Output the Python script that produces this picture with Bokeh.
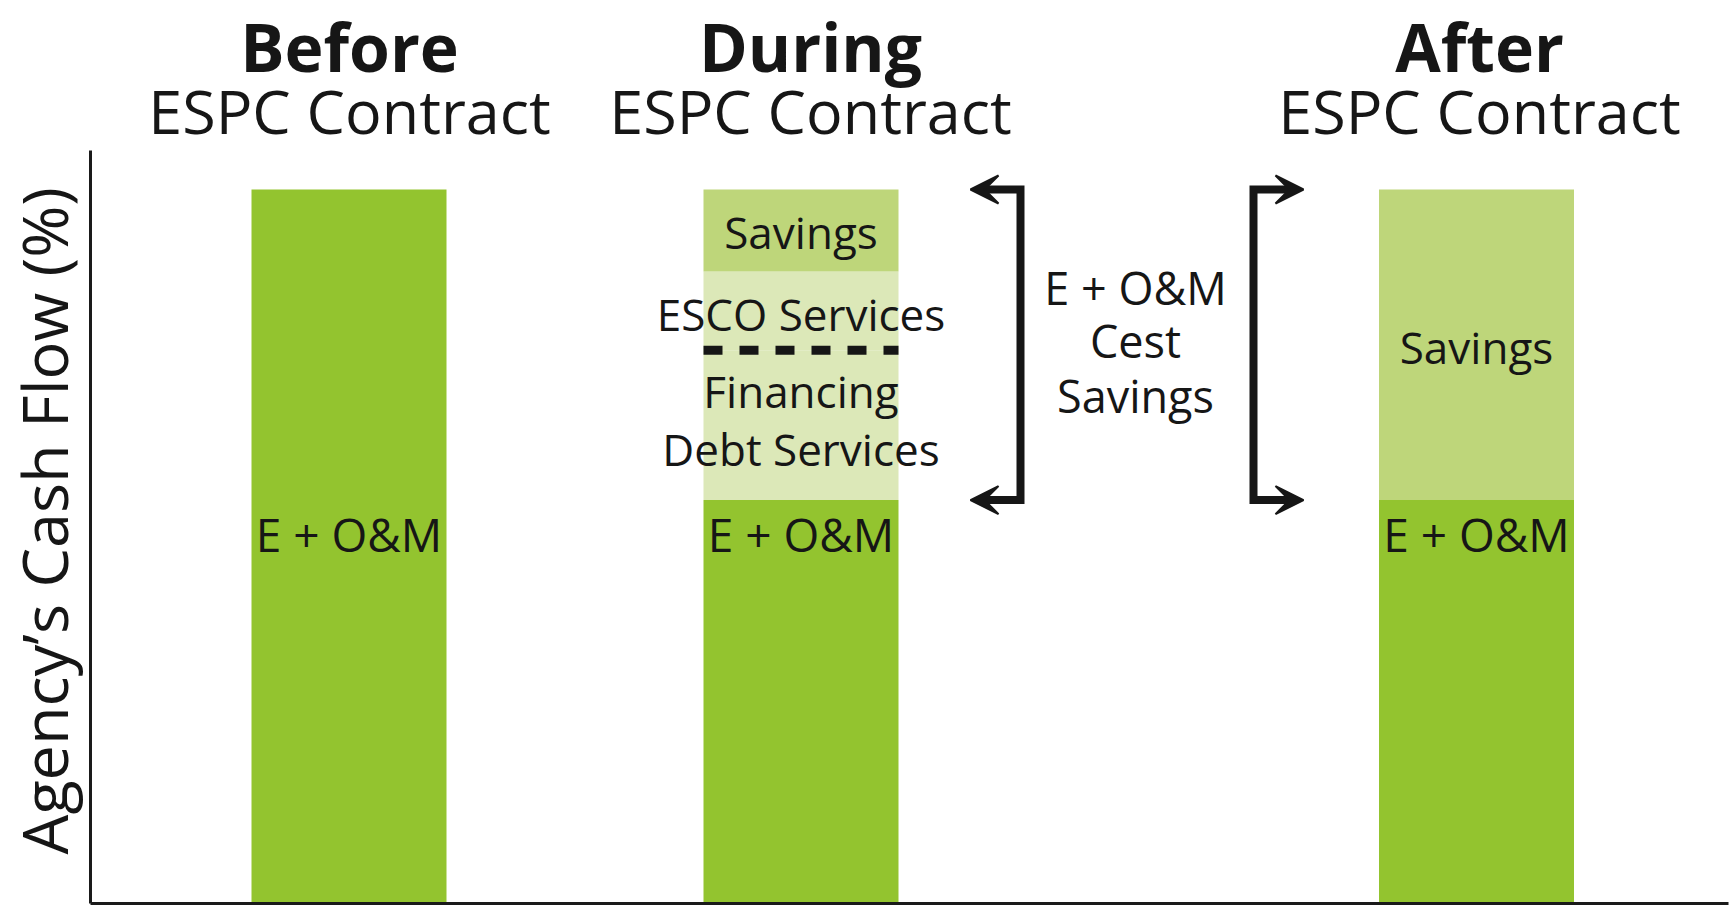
import math
from bokeh.plotting import figure
from bokeh.models import Range1d, FixedTicker, Label, Arrow, VeeHead, ColumnDataSource
from bokeh.core.properties import value
from bokeh.embed import file_html
from bokeh.resources import INLINE

# ---------------- data ----------------
categories = ["Before", "During", "After"]
subtitle = "ESPC Contract"
eom = [100, 56.5, 56.5]          # Energy + O&M
financing_debt = [0, 21, 0]      # Financing / debt services
esco_services = [0, 11, 0]       # ESCO services
savings = [0, 11.5, 43.5]        # Savings
y_label = "Agency\u2019s Cash Flow (%)"
bracket_text = ["E + O&M", "Cest", "Savings"]

# ---------------- layout / style ----------------
W, H = 1731, 907
LEFT, TOP, BOTTOM = 90, 150, 4
PX_PER_UNIT = 7.14
AXIS_TOP = (H - TOP - BOTTOM) / PX_PER_UNIT
bar_x = [258.5, 710.5, 1386]      # bar centres (x in pixels from axis)
title_x = [259, 720, 1389]
BAR_W = 195
FONT = "Open Sans"
TXT = "#161616"
C_DARK = "#93C42F"
C_SAV = "#BED67A"
C_SERV = "#DCE8B8"

p = figure(width=W, height=H, output_backend="svg", toolbar_location=None,
           x_range=Range1d(-LEFT, W - LEFT),
           y_range=Range1d(-BOTTOM / PX_PER_UNIT, (H - BOTTOM) / PX_PER_UNIT),
           min_border_left=0, min_border_right=0, min_border_top=0,
           min_border_bottom=0, background_fill_color="white")
p.outline_line_color = None
p.xgrid.visible = False
p.ygrid.visible = False
for ax in (p.xaxis[0], p.yaxis[0]):
    ax.ticker = FixedTicker(ticks=[])
    ax.fixed_location = 0
    ax.major_tick_line_color = None
    ax.minor_tick_line_color = None
    ax.major_tick_out = 0
    ax.minor_tick_out = 0
    ax.major_label_text_font_size = "0px"
    ax.major_label_standoff = 0
    ax.axis_line_width = 3
    ax.axis_line_color = "#1a1a1a"
p.yaxis[0].bounds = (0, AXIS_TOP)
p.xaxis[0].bounds = (0, W - LEFT - 3)

src = ColumnDataSource(dict(x=bar_x, eom=eom, financing=financing_debt,
                            esco=esco_services, savings=savings))
p.vbar_stack(["eom", "financing", "esco", "savings"], x="x", width=BAR_W,
             color=[C_DARK, C_SERV, C_SERV, C_SAV], source=src, line_width=0)

# dashed divider between financing and ESCO services (During bar)
div_y = eom[1] + financing_debt[1]
p.segment(x0=[bar_x[1] - BAR_W / 2], y0=[div_y], x1=[bar_x[1] + BAR_W / 2], y1=[div_y],
          line_color=TXT, line_width=9, line_dash="19 17")

# in-bar labels
lab = ColumnDataSource(dict(
    x=[bar_x[1], bar_x[1], bar_x[1], bar_x[1], bar_x[2]],
    y=[94.1, 82.6, 71.8, 63.6, 78.0],
    t=["Savings", "ESCO Services", "Financing", "Debt Services", "Savings"]))
p.text(x="x", y="y", text="t", source=lab, text_font=value(FONT), text_font_size="44px",
       text_align="center", text_baseline="middle", text_color=TXT)
eom_lab = ColumnDataSource(dict(x=bar_x, y=[51.8] * 3, t=["E + O&M"] * 3))
p.text(x="x", y="y", text="t", source=eom_lab, text_font=value(FONT), text_font_size="46px",
       text_align="center", text_baseline="middle", text_color=TXT)

# bracket text
bt = ColumnDataSource(dict(x=[1045] * 3, y=[86.3, 78.8, 71.2], t=bracket_text))
p.text(x="x", y="y", text="t", source=bt, text_font=value(FONT), text_font_size="45px",
       text_align="center", text_baseline="middle", text_color=TXT)

# brackets with arrows
top_y = eom[1] + financing_debt[1] + esco_services[1] + savings[1]
bot_y = eom[1]
HEAD = 28
def bracket(xv, xtip):
    d = 1 if xtip > xv else -1
    xe = xtip - d * HEAD / 2
    p.line([xe, xv, xv, xe], [top_y, top_y, bot_y, bot_y], line_color=TXT,
           line_width=8, line_join="miter")
    for yy in (top_y, bot_y):
        p.add_layout(Arrow(end=VeeHead(size=HEAD, fill_color=TXT, line_color=TXT, line_width=2),
                           x_start=xtip - d * 20, y_start=yy, x_end=xtip, y_end=yy,
                           line_alpha=0))
bracket(930, 880)
bracket(1163, 1213)

# titles
for name, tx in zip(categories, title_x):
    p.add_layout(Label(x=tx, y=120.1, text=name, text_font=FONT, text_font_size="66px",
                       text_font_style="bold", text_align="center",
                       text_baseline="alphabetic", text_color=TXT))
    p.add_layout(Label(x=tx, y=111.0, text=subtitle, text_font=FONT, text_font_size="61px",
                       text_align="center", text_baseline="alphabetic", text_color=TXT))

# y label
p.add_layout(Label(x=-47, y=53.6, text=y_label, angle=math.pi / 2, text_font=FONT,
                   text_font_size="63px", text_align="center", text_baseline="alphabetic",
                   text_color=TXT))

open("out.html", "w").write(file_html(p, INLINE))
